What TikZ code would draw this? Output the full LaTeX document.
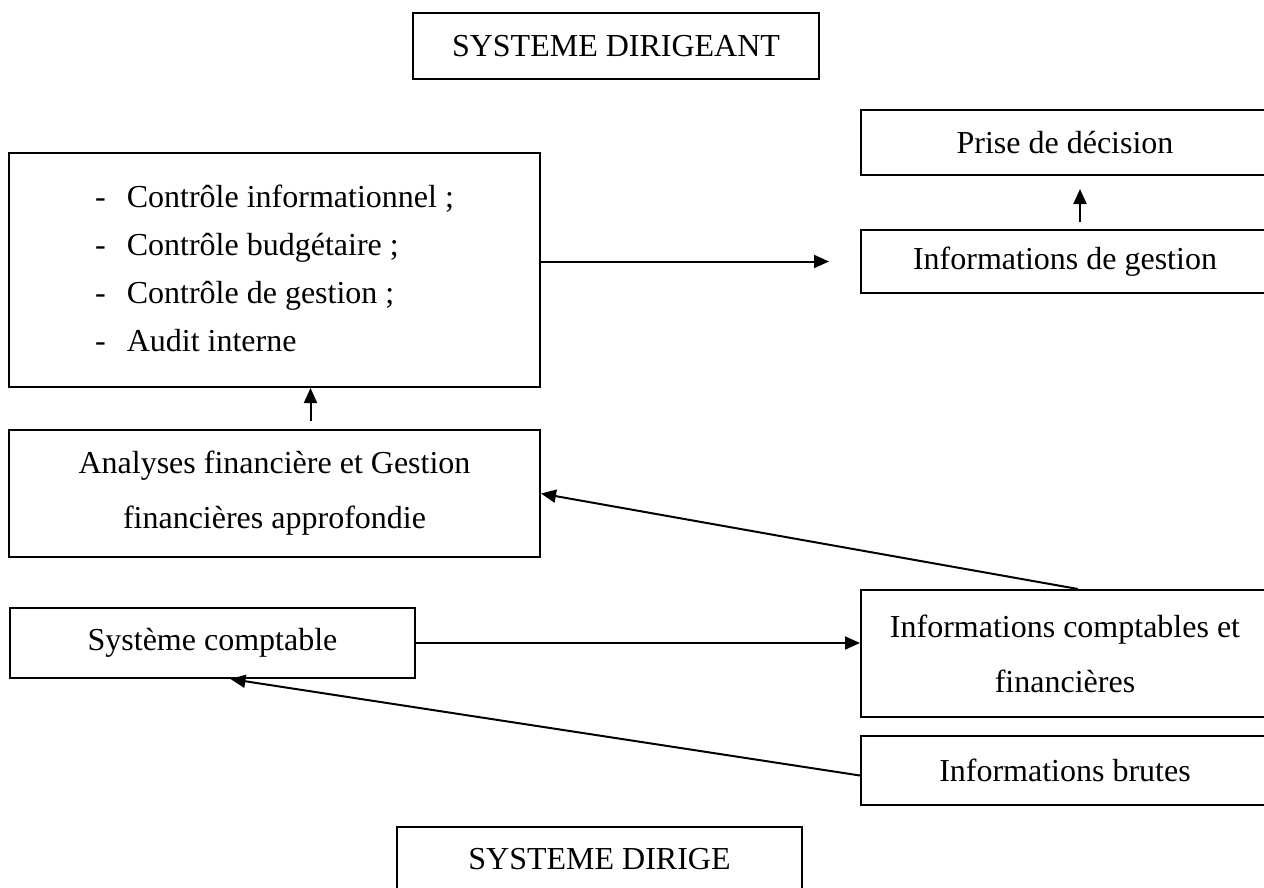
\documentclass[tikz,border=0pt]{standalone}
\usepackage{fontspec}
\setmainfont{Liberation Serif}
\usepackage{tikz}
\usetikzlibrary{arrows.meta}

\tikzset{
  box/.style={draw, line width=2pt, inner sep=0pt, font=\fontsize{32}{48}\selectfont},
  twoline/.style={align=center, font=\fontsize{32}{55}\selectfont},
  fleche/.style={line width=2pt, -{Triangle[length=15pt,width=13pt]}}
}

\begin{document}
\begin{tikzpicture}[x=1pt,y=-1pt]
	\useasboundingbox (0,0) rectangle (1264,887);
	\clip (0,0) rectangle (1264,887);
	% systeme dirigeant
	\node[box, minimum width=406pt, minimum height=66pt] (dirigeant) at (616,46) {SYSTEME DIRIGEANT};
	\node[box, minimum width=408pt, minimum height=65pt] (decision) at (1065,142.5) {Prise de décision};
	\node[box, minimum width=408pt, minimum height=63pt] (gestion) at (1065,261.5) {Informations de gestion};
	\node[box, minimum width=531pt, minimum height=234pt] (controles) at (274.5,270) {%
		\begin{tabular}{@{}l@{\hspace{21pt}}l@{}}
			- & Contrôle informationnel ; \\
			- & Contrôle budgétaire ; \\
			- & Contrôle de gestion ; \\
			- & Audit interne
		\end{tabular}};
	\node[box, twoline, minimum width=531pt, minimum height=127pt] (analyses) at (274.5,493.5) {Analyses financière et Gestion\\financières approfondie};
	% systeme dirige
	\node[box, minimum width=405pt, minimum height=70pt] (comptable) at (212.5,643) {Système comptable};
	\node[box, twoline, minimum width=408pt, minimum height=127pt] (infocompta) at (1065,653.5) {Informations comptables et\\financières};
	\node[box, minimum width=408pt, minimum height=69pt] (brutes) at (1065,770.5) {Informations brutes};
	\node[box, minimum width=405pt, minimum height=64pt] (dirige) at (599.5,859) {SYSTEME DIRIGE};
	% fleches
	\draw[fleche, shorten >=31pt] (controles.east |- gestion.west) -- (gestion.west);
	\draw[fleche, shorten <=7pt, shorten >=13pt] ([xshift=15pt]gestion.north) -- ([xshift=15pt]decision.south);
	\draw[fleche, shorten <=8pt] ([xshift=36pt]analyses.north) -- ([xshift=36pt]controles.south);
	\draw[fleche] ([xshift=13pt]infocompta.north) -- (analyses.east);
	\draw[fleche] (comptable.east) -- (comptable.east -| infocompta.west);
	\draw[fleche] ([yshift=-5pt]brutes.west) -- ([xshift=18pt]comptable.south);
\end{tikzpicture}
\end{document}
